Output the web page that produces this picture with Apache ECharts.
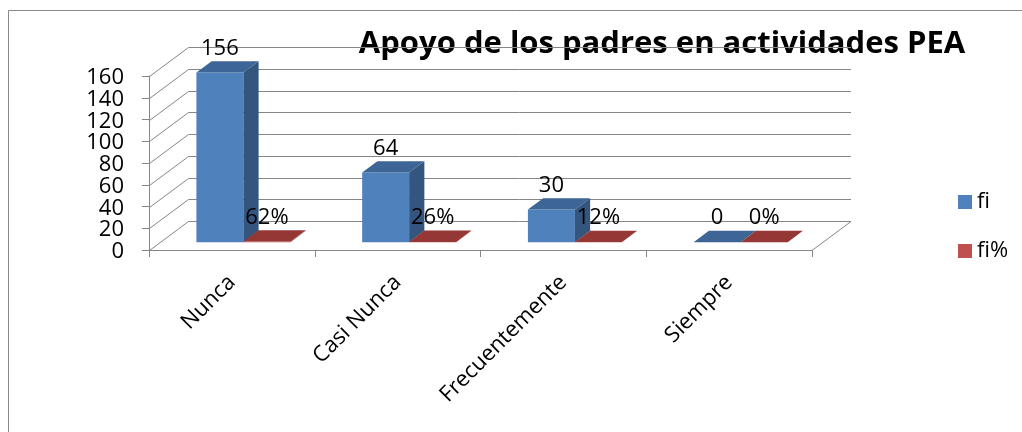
<!DOCTYPE html>
<html>
<head>
<meta charset="utf-8">
<script src="https://cdn.jsdelivr.net/npm/echarts@6/dist/echarts.min.js"></script>
<style>
  html, body { margin: 0; padding: 0; background: #fff; }
  #chart { width: 1022px; height: 432px; }
</style>
</head>
<body>
<div id="chart"></div>
<script>
const categories = ['Nunca', 'Casi Nunca', 'Frecuentemente', 'Siempre']
const fiValues = [156, 64, 30, 0]
const fiPctValues = [0.62, 0.26, 0.12, 0]
const fiPctLabels = ['62%', '26%', '12%', '0%']
const yTicks = [0, 20, 40, 60, 80, 100, 120, 140, 160]

// 3d look: oblique offset of the back wall
const DX = 39
const DY = -29
const D0 = 0.27
const D1 = 0.66
const GRID_COLOR = '#868686'
const FONT = 'Open Sans'

function barRender (slot, colors, labelOf) {
  return function (params, api) {
    const i = api.value(0)
    const v = api.value(1)
    const base = api.coord([i, 0])
    const top = api.coord([i, v])
    const bw = api.size([1, 0])[0]
    const x0 = base[0] + slot[0] * bw + DX * D0
    const x1 = base[0] + slot[1] * bw + DX * D0
    const yb = base[1] + DY * D0
    const yt = top[1] + DY * D0
    const ddx = DX * (D1 - D0)
    const ddy = DY * (D1 - D0)
    return {
      type: 'group',
      children: [
        {
          type: 'polygon',
          shape: { points: [[x0, yt], [x1, yt], [x1, yb], [x0, yb]] },
          style: { fill: colors.front }
        },
        {
          type: 'polygon',
          shape: { points: [[x1, yt], [x1 + ddx, yt + ddy], [x1 + ddx, yb + ddy], [x1, yb]] },
          style: { fill: colors.side }
        },
        {
          type: 'polygon',
          shape: { points: [[x0, yt], [x1, yt], [x1 + ddx, yt + ddy], [x0 + ddx, yt + ddy]] },
          style: { fill: colors.top }
        },
        {
          type: 'text',
          x: (x0 + x1) / 2,
          y: yt - 24,
          style: {
            text: labelOf(params.dataIndex, v),
            fontFamily: FONT,
            fontSize: 22,
            fill: '#000',
            align: 'center',
            verticalAlign: 'middle'
          }
        }
      ]
    }
  }
}

// back wall + side wall lines and the value labels, one per y tick
// (labels drawn here because the axis drops some of them when they touch)
function wallRender (params, api) {
  const cs = params.coordSys
  const left = cs.x + 0.5
  const right = cs.x + cs.width
  const children = []
  const line = function (x1, y1, x2, y2) {
    children.push({
      type: 'line',
      shape: { x1: x1, y1: y1, x2: x2, y2: y2 },
      style: { stroke: GRID_COLOR, lineWidth: 1 }
    })
  }
  yTicks.forEach(function (t) {
    const y = Math.round(api.coord([0, t])[1]) + 0.5
    line(left, y, left + DX, y + DY)
    line(left + DX, y + DY, right + DX, y + DY)
    if (t === 0) line(right, y, right + DX, y + DY)
    children.push({
      type: 'text',
      x: cs.x - 25,
      y: y + 1.5,
      style: {
        text: String(t),
        fontFamily: FONT,
        fontSize: 22,
        fill: '#000',
        align: 'right',
        verticalAlign: 'middle'
      }
    })
  })
  return { type: 'group', children: children }
}

const chart = echarts.init(document.getElementById('chart'))
chart.setOption({
  animation: false,
  backgroundColor: '#fff',
  textStyle: { fontFamily: FONT },
  graphic: [
    {
      type: 'rect',
      shape: { x: 8.5, y: 10.5, width: 1100, height: 500 },
      style: { fill: null, stroke: '#898989', lineWidth: 1 },
      silent: true
    },
    {
      type: 'text',
      x: 662,
      y: 44,
      style: {
        text: 'Apoyo de los padres en actividades PEA',
        fontFamily: FONT,
        fontWeight: 'bold',
        fontSize: 31,
        fill: '#000',
        align: 'center',
        verticalAlign: 'middle'
      }
    }
  ],
  legend: {
    orient: 'vertical',
    left: 953,
    top: 185,
    itemWidth: 14,
    itemHeight: 14,
    itemGap: 25,
    icon: 'rect',
    data: ['fi', 'fi%'],
    textStyle: { fontFamily: FONT, fontSize: 22, lineHeight: 24, color: '#000' }
  },
  grid: { left: 149, top: 76, width: 663, height: 174 },
  xAxis: {
    type: 'category',
    data: categories,
    axisLine: { lineStyle: { color: GRID_COLOR, width: 1 } },
    axisTick: { show: true, length: 7, interval: 0, lineStyle: { color: GRID_COLOR } },
    axisLabel: {
      interval: 0,
      rotate: 45,
      margin: 29,
      fontSize: 22,
      fontFamily: FONT,
      color: '#000'
    },
    splitLine: { show: false }
  },
  yAxis: {
    type: 'value',
    min: 0,
    max: 160,
    interval: 20,
    axisLine: { show: true, lineStyle: { color: GRID_COLOR, width: 1 } },
    axisTick: { show: true, length: 7, lineStyle: { color: GRID_COLOR } },
    axisLabel: { show: false },
    splitLine: { show: false }
  },
  series: [
    {
      name: 'walls',
      type: 'custom',
      silent: true,
      clip: false,
      z: 1,
      encode: { x: 0, y: 1 },
      renderItem: wallRender,
      data: [[0, yTicks[0]]]
    },
    {
      name: 'fi',
      type: 'custom',
      clip: false,
      z: 2,
      itemStyle: { color: '#4F81BD' },
      encode: { x: 0, y: 1 },
      renderItem: barRender([-0.2775, 0.006], { front: '#4F81BD', side: '#34557D', top: '#3D6596' },
        function (i, v) { return String(v) }),
      data: fiValues.map(function (v, i) { return [i, v] })
    },
    {
      name: 'fi%',
      type: 'custom',
      clip: false,
      z: 3,
      itemStyle: { color: '#C0504D' },
      encode: { x: 0, y: 1 },
      renderItem: barRender([0.006, 0.29], { front: '#C0504D', side: '#8E3A38', top: '#953735' },
        function (i) { return fiPctLabels[i] }),
      data: fiPctValues.map(function (v, i) { return [i, v] })
    }
  ]
})
</script>
</body>
</html>
